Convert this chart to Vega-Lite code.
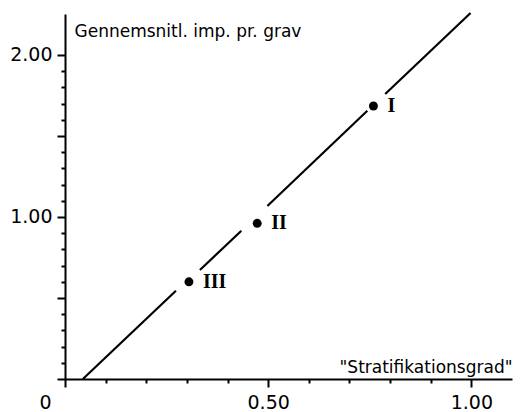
{
  "$schema": "https://vega.github.io/schema/vega-lite/v6.json",
  "width": 447,
  "height": 365,
  "autosize": {"type": "none"},
  "padding": {"left": 65, "top": 14, "right": 12, "bottom": 33},
  "background": "white",
  "config": {
    "view": {"stroke": null},
    "font": "DejaVu Sans",
    "axis": {
      "grid": false,
      "domainColor": "black",
      "domainWidth": 2,
      "tickColor": "black",
      "tickWidth": 2,
      "labelColor": "black",
      "titleColor": "black",
      "labelFont": "DejaVu Sans",
      "titleFont": "DejaVu Sans"
    }
  },
  "datasets": {
    "segs": [
      {"x1": 0.044, "y1": 0.0, "x2": 0.273, "y2": 0.545},
      {"x1": 0.332, "y1": 0.673, "x2": 0.434, "y2": 0.915},
      {"x1": 0.498, "y1": 1.068, "x2": 0.744, "y2": 1.656},
      {"x1": 0.788, "y1": 1.759, "x2": 0.998, "y2": 2.259}
    ],
    "pts": [
      {"x": 0.759, "y": 1.685, "label": "I"},
      {"x": 0.473, "y": 0.961, "label": "II"},
      {"x": 0.305, "y": 0.6, "label": "III"}
    ]
  },
  "layer": [
    {
      "data": {"name": "segs"},
      "mark": {"type": "rule", "color": "black", "strokeWidth": 2.2},
      "encoding": {
        "x": {
          "field": "x1",
          "type": "quantitative",
          "scale": {"domain": [0, 1.1], "nice": false, "zero": false},
          "axis": {
            "values": [0, 0.1, 0.2, 0.3, 0.4, 0.5, 0.6, 0.7, 0.8, 0.9, 1.0],
            "tickCount": 50,
            "labelExpr": "datum.value == 0 ? '0' : (datum.value == 0.5 || datum.value == 1) ? format(datum.value, '.2f') : ''",
            "labelFontSize": 19,
            "labelPadding": 6,
            "labelFlush": false,
            "labelOverlap": false,
            "labelOffset": {"condition": {"test": "datum.value == 0", "value": -20}, "value": 0},
            "tickSize": {"condition": {"test": "datum.value == 0 || datum.value == 0.5 || datum.value == 1", "value": 8}, "value": 4},
            "title": "\"Stratifikationsgrad\"",
            "titleFontSize": 17,
            "titleFontWeight": "normal",
            "titleAngle": 0,
            "titleAlign": "right",
            "titleBaseline": "alphabetic",
            "titleAnchor": null,
            "titleX": 447,
            "titleY": -7
          }
        },
        "y": {
          "field": "y1",
          "type": "quantitative",
          "scale": {"domain": [0, 2.253], "nice": false, "zero": false},
          "axis": {
            "values": [0, 0.1, 0.2, 0.3, 0.4, 0.5, 0.6, 0.7, 0.8, 0.9, 1.0, 1.1, 1.2, 1.3, 1.4, 1.5, 1.6, 1.7, 1.8, 1.9, 2.0],
            "tickCount": 50,
            "labelExpr": "(datum.value == 1 || datum.value == 2) ? format(datum.value, '.2f') : ''",
            "labelFontSize": 19,
            "labelPadding": 5,
            "labelFlush": false,
            "labelOverlap": false,
            "tickSize": {"condition": {"test": "datum.value == 0 || datum.value == 0.5 || datum.value == 1 || datum.value == 1.5 || datum.value == 2", "value": 8}, "value": 4},
            "title": "Gennemsnitl. imp. pr. grav",
            "titleFontSize": 17,
            "titleFontWeight": "normal",
            "titleAngle": 0,
            "titleAlign": "left",
            "titleBaseline": "middle",
            "titleAnchor": null,
            "titleX": 9,
            "titleY": 17
          }
        },
        "x2": {"field": "x2"},
        "y2": {"field": "y2"}
      }
    },
    {
      "data": {"name": "pts"},
      "mark": {"type": "point", "filled": true, "color": "black", "size": 80, "opacity": 1},
      "encoding": {
        "x": {"field": "x", "type": "quantitative"},
        "y": {"field": "y", "type": "quantitative"}
      }
    },
    {
      "data": {"name": "pts"},
      "mark": {"type": "text", "align": "left", "baseline": "middle", "dx": 14, "font": "Liberation Serif", "fontWeight": "bold", "fontSize": 20, "color": "black"},
      "encoding": {
        "x": {"field": "x", "type": "quantitative"},
        "y": {"field": "y", "type": "quantitative"},
        "text": {"field": "label"}
      }
    }
  ]
}
